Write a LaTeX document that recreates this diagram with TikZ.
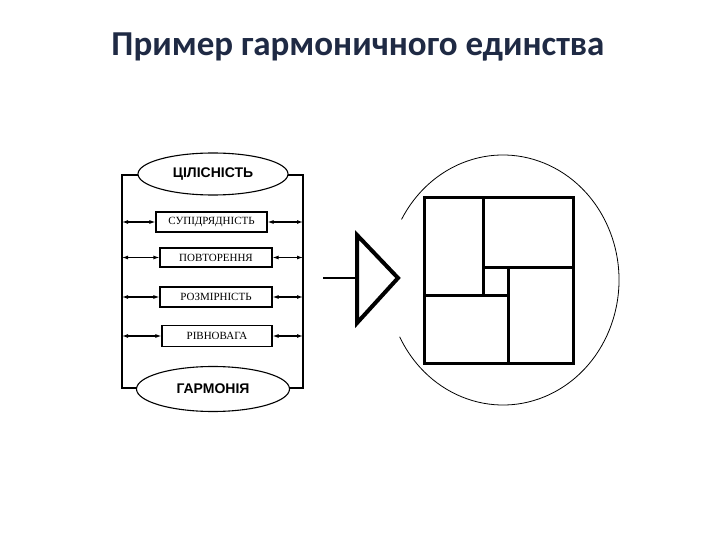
\documentclass[tikz,border=0pt]{standalone}
\usepackage{fontspec}
\setmainfont{Liberation Serif}
\newfontfamily\titlefont{Carlito}
\newfontfamily\hsans{Liberation Sans}
\usetikzlibrary{shapes.geometric,arrows.meta}
\definecolor{titlecol}{HTML}{1F2A44}
\begin{document}
\begin{tikzpicture}[x=1pt,y=-1pt,
  oval/.style={draw,line width=1.1pt,ellipse,fill=white,inner sep=0pt,font=\hsans\bfseries\fontsize{14}{16}\selectfont},
  sbox/.style={draw,line width=1.1pt,rectangle,inner sep=0pt,font=\fontsize{11}{13}\selectfont},
  link/.style={line width=1.1pt,{Latex[length=6pt,width=4pt]}-{Latex[length=6pt,width=4pt]}},
  frame/.style={line width=1.3pt},
  thick2/.style={line width=3pt}]
\useasboundingbox (0,0) rectangle (720,540);
\fill[white] (0,0) rectangle (720,540);
\node[font=\titlefont\bfseries\fontsize{35}{40}\selectfont,text=titlecol] (title) at (358,47) {Пример гармоничного единства};
% frame
\coordinate (tl) at (122,175); \coordinate (tr) at (303,175);
\coordinate (bl) at (122,388); \coordinate (br) at (303,388);
\draw[frame] (tl) -- (tr) -- (br) -- (bl) -- cycle;
\node[oval,minimum width=150pt,minimum height=42pt] (top) at (213,174) {ЦІЛІСНІСТЬ};
\node[oval,minimum width=153pt,minimum height=45pt] (bot) at (213,389) {ГАРМОНІЯ};
\node[sbox,minimum width=111pt,minimum height=20pt] (b1) at (211.5,222) {СУПІДРЯДНІСТЬ};
\node[sbox,minimum width=112pt,minimum height=19pt] (b2) at (216,257.5) {ПОВТОРЕННЯ};
\node[sbox,minimum width=112pt,minimum height=20pt] (b3) at (216,297) {РОЗМІРНІСТЬ};
\node[sbox,minimum width=110pt,minimum height=21pt] (b4) at (217,336) {РІВНОВАГА};
\foreach \b in {b1,b2,b3,b4}{
  \coordinate (L\b) at (122,0 |- \b.west);
  \coordinate (R\b) at (303,0 |- \b.east);
  \draw[link] (L\b) -- (\b.west);
  \draw[link] (\b.east) -- (R\b);
}
% triangle
\coordinate (s0) at (323,278); \coordinate (s1) at (357,278);
\coordinate (t1) at (357,235); \coordinate (t2) at (398,278); \coordinate (t3) at (357,323);
\draw[line width=2.5pt] (s0) -- (s1);
\draw[line width=4pt,line join=miter] (t1) -- (t2) -- (t3) -- cycle;
% circle arc
\coordinate (cc) at (503,280);
\draw[line width=0.8pt] (cc) ++(-153:116pt and 125pt) arc[start angle=-153,end angle=151,x radius=116pt,y radius=125pt];
% squares
\draw[thick2] (424,198) rectangle (573,363);
\draw[thick2] (483,198) -- (483,295);
\draw[thick2] (483,267) -- (573,267);
\draw[thick2] (424,295) -- (508,295);
\draw[thick2] (508,267) -- (508,363);
\end{tikzpicture}
\end{document}
